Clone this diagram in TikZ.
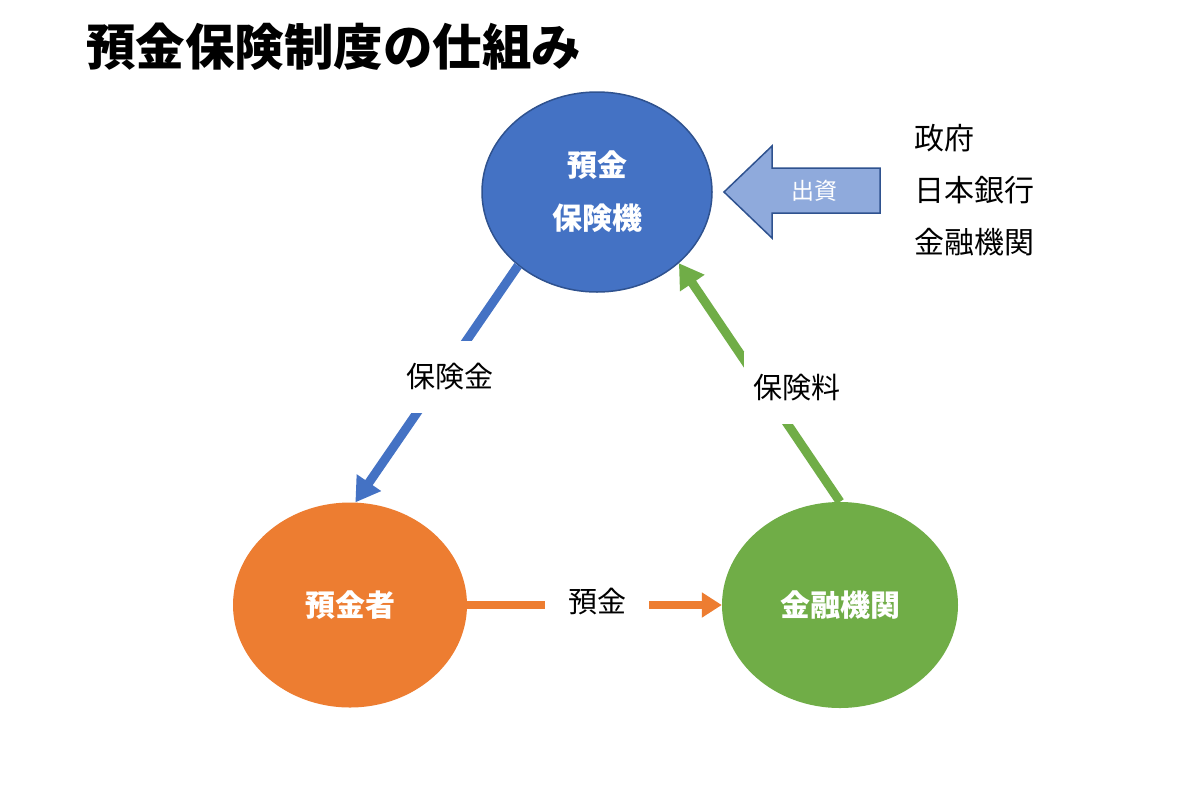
\documentclass[tikz,border=0pt]{standalone}
\usepackage{fontspec}
\setmainfont{Noto Sans CJK JP}
\usetikzlibrary{shapes.geometric,arrows.meta}
\definecolor{cblue}{HTML}{4472C4}
\definecolor{cblueedge}{HTML}{2F528F}
\definecolor{corange}{HTML}{ED7D31}
\definecolor{cgreen}{HTML}{70AD47}
\definecolor{clight}{HTML}{8FAADC}
\begin{document}
\begin{tikzpicture}[x=1pt,y=-1pt,
  circ/.style={ellipse, inner sep=0pt, text=white, align=center,
    font=\fontsize{30}{53}\selectfont\bfseries},
  conn/.style={line width=9pt, -{Triangle[length=24pt,width=28pt]}},
  lbl/.style={fill=white, font=\fontsize{29}{30}\selectfont, inner sep=0pt},
  side/.style={anchor=west, font=\fontsize{30}{32}\selectfont, inner sep=0pt}]
\useasboundingbox (0,0) rectangle (1200,804);
\fill[white] (0,0) rectangle (1200,804);

\node[anchor=west, inner sep=0pt, font=\fontsize{49.5}{52}\selectfont\bfseries] (title) at (86,47) {預金保険制度の仕組み};

\node[circ, fill=cblue, draw=cblueedge, line width=1.5pt, minimum width=230pt, minimum height=200pt] (dic) at (597,192) {預金\\保険機};
\node[circ, fill=corange, minimum width=234pt, minimum height=205pt] (dep) at (350,605) {預金者};
\node[circ, fill=cgreen, minimum width=236pt, minimum height=206pt] (bank) at (840,605) {金融機関};

% block arrow
\draw[fill=clight, draw=cblueedge, line width=1.5pt]
  (724,192) coordinate (tip) -- (772,146) -- (772,168) -- (880,168) -- (880,213)
  -- (772,213) -- (772,238) -- cycle;
\node[text=white, font=\fontsize{23}{25}\selectfont, inner sep=0pt] (inv) at (814,191) {出資};

\node[side] (gov) at (914,138) {政府};
\node[side] (boj) at (914,190) {日本銀行};
\node[side] (fin) at (914,242) {金融機関};

% connectors
\draw[conn, cblue] (dic.223.5) -- (dep.87);
\draw[conn, cgreen] (bank.90) -- (dic.319.3);
\draw[conn, corange, line width=8pt, -{Triangle[length=20pt,width=24pt]}] (dep.east) -- (bank.west);

\node[lbl, minimum height=72pt, inner xsep=2pt] (l1) at (450,377) {保険金};
\node[lbl, minimum height=72pt, inner xsep=10pt] (l2) at (797,388) {保険料};
\node[lbl, minimum height=40pt, inner xsep=23pt] (l3) at (597,601) {預金};
\end{tikzpicture}
\end{document}
